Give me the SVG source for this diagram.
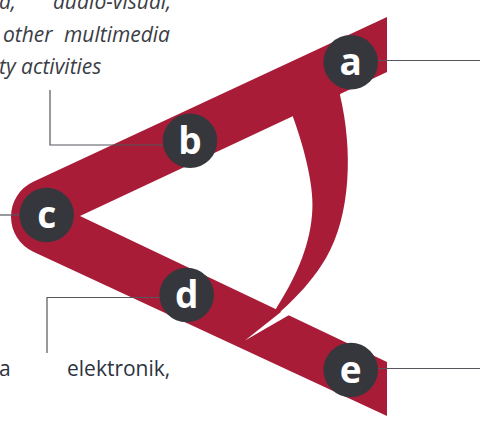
<svg xmlns="http://www.w3.org/2000/svg" width="480" height="421" viewBox="0 0 480 421">
<style>
.red{fill:#a91c37}
.node circle{fill:#36373d}
.node text{fill:#ffffff;font-family:"Open Sans","DejaVu Sans",sans-serif;font-weight:bold;font-size:37px;text-anchor:middle}
.conn{fill:none;stroke:#55575c;stroke-width:1.2}
.it{fill:#3b3d45;font-family:"Open Sans","Liberation Sans",sans-serif;font-style:italic;font-size:21px}
.rg{fill:#2c3340;font-family:"Open Sans","Liberation Sans",sans-serif;font-size:21px}
</style>
<rect width="480" height="421" fill="#ffffff"/>
<g id="shape">
<path class="red" d="M387,17 L33.25,181.85 A38.5,38.5 0 0 0 33.25,251.65 L387,416 L387,362 L80,216 L387,72 Z"/>
<path class="red" d="M290,105 L342,85 L340,95 C353,150 351,215 326,258 C306,292 275,318 245,340 L270,320 L277,307 C294,280 309,250 312,215 C315,190 305,150 293,117 Z"/>
<polygon points="281.5,311.5 290,314.5 245,340.5" fill="#ffffff"/>
</g>
<g id="texts">
<text class="it" y="9"><tspan x="-1">a,</tspan><tspan x="53">audio-visual,</tspan></text>
<text class="it" y="42"><tspan x="3">other</tspan><tspan x="64">multimedia</tspan></text>
<text class="it" x="-1" y="74">ty activities</text>
<text class="rg" x="-1" y="376">a</text>
<text class="rg" x="67" y="376">elektronik,</text>
</g>
<g id="connectors">
<polyline class="conn" points="163,145 50,145 50,90"/>
<line class="conn" x1="0" y1="215" x2="20" y2="215"/>
<polyline class="conn" points="160,297.5 47,297.5 47,353"/>
<line class="conn" x1="378" y1="60.5" x2="480" y2="60.5"/>
<line class="conn" x1="378" y1="368.5" x2="480" y2="368.5"/>
</g>
<g id="node-a" class="node"><circle cx="350.7" cy="62.3" r="27.3"/><text x="350.7" y="75">a</text></g>
<g id="node-b" class="node"><circle cx="190" cy="140.7" r="27.3"/><text x="190" y="154">b</text></g>
<g id="node-c" class="node"><circle cx="46.7" cy="215" r="27.3"/><text x="46.7" y="228">c</text></g>
<g id="node-d" class="node"><circle cx="186.7" cy="295" r="27.3"/><text x="186.7" y="308">d</text></g>
<g id="node-e" class="node"><circle cx="350.7" cy="370" r="27.3"/><text x="350.7" y="383">e</text></g>
</svg>
